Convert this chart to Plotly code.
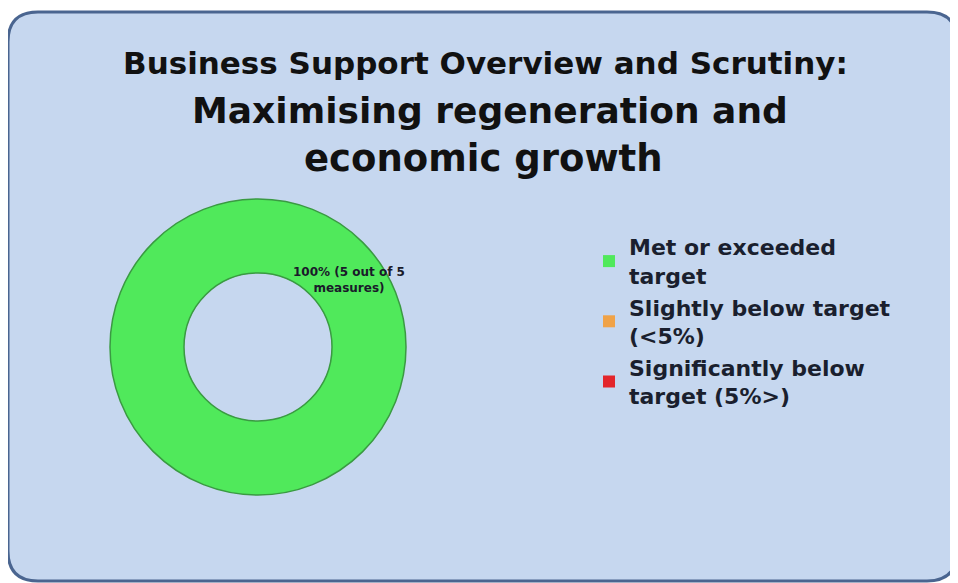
import plotly.graph_objects as go

categories = ["Met or exceeded<br>target", "Slightly below target<br>(<5%)", "Significantly below<br>target (5%>)"]
values = [5, 0, 0]
total_measures = 5
colors = ["#50E95B", "#F0A247", "#E3252B"]

title_lines = ["Business Support Overview and Scrutiny:", "Maximising regeneration and", "economic growth"]

OFF = 8  # page body margin
W, H = 950, 575

def px(x):
    return (x - OFF) / W

def py(y):
    return 1 - (y - OFF) / H

FONT = "DejaVu Sans, Liberation Sans, Arial"

# donut geometry (screen pixels)
cx, cy, R = 258, 347, 148
r_in = 74

fig = go.Figure()
fig.add_trace(go.Pie(
    labels=[f"<b>{c}</b>" for c in categories],
    values=values,
    hole=r_in / R,
    sort=False,
    direction="clockwise",
    marker=dict(colors=colors, line=dict(width=0)),
    textinfo="none",
    hoverinfo="label+value",
    domain=dict(x=[px(cx - R), px(cx + R)], y=[py(cy + R), py(cy - R)]),
    showlegend=True,
))

# rounded panel
x0, x1, y0, y1, r = 8, 957, 12, 581, 30
path = (
    f"M {px(x0+r)},{py(y0)} L {px(x1-r)},{py(y0)} "
    f"Q {px(x1)},{py(y0)} {px(x1)},{py(y0+r)} L {px(x1)},{py(y1-r)} "
    f"Q {px(x1)},{py(y1)} {px(x1-r)},{py(y1)} L {px(x0+r)},{py(y1)} "
    f"Q {px(x0)},{py(y1)} {px(x0)},{py(y1-r)} L {px(x0)},{py(y0+r)} "
    f"Q {px(x0)},{py(y0)} {px(x0+r)},{py(y0)} Z"
)

shapes = [
    dict(type="path", path=path, xref="paper", yref="paper",
         fillcolor="#C6D7EF", line=dict(color="#4A6590", width=3), layer="below"),
    dict(type="circle", xref="paper", yref="paper",
         x0=px(cx - R), x1=px(cx + R), y0=py(cy + R), y1=py(cy - R),
         line=dict(color="#3A9A42", width=1.5), layer="above"),
    dict(type="circle", xref="paper", yref="paper",
         x0=px(cx - r_in), x1=px(cx + r_in), y0=py(cy + r_in), y1=py(cy - r_in),
         line=dict(color="#3A9A42", width=1.5), layer="above"),
]

pct = round(100 * values[0] / sum(values))
label_text = f"<b>{pct}% ({values[0]} out of {total_measures}<br>measures)</b>"

def ann(text, x, y, size, color="#111111"):
    return dict(text=text, x=px(x), y=py(y), xref="paper", yref="paper",
                xanchor="center", yanchor="middle", showarrow=False,
                font=dict(size=size, color=color, family=FONT))

annotations = [
    ann(f"<b>{title_lines[0]}</b>", 485, 63, 31),
    ann(f"<b>{title_lines[1]}</b>", 490, 110, 36),
    ann(f"<b>{title_lines[2]}</b>", 483, 158, 37),
    ann(label_text, 349, 280, 12, "#1A1A2A"),
]

fig.update_layout(
    width=W, height=H,
    margin=dict(l=0, r=0, t=0, b=0),
    paper_bgcolor="white",
    plot_bgcolor="white",
    shapes=shapes,
    annotations=annotations,
    legend=dict(x=px(589), y=py(226), xanchor="left", yanchor="top",
                font=dict(size=22, color="#1A1F2E", family=FONT),
                bgcolor="rgba(0,0,0,0)", itemclick=False, itemwidth=30),
    showlegend=True,
)

fig.write_html("out.html")
